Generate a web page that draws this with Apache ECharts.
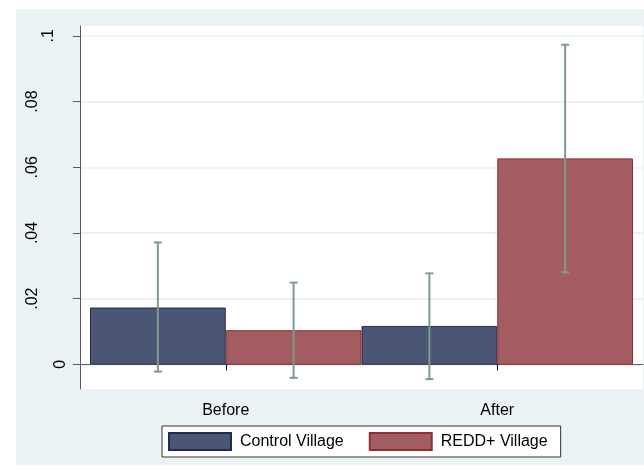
<!DOCTYPE html>
<html>
<head>
<meta charset="utf-8">
<script src="https://cdn.jsdelivr.net/npm/echarts@6/dist/echarts.min.js"></script>
<style>
  html, body { margin: 0; padding: 0; background: #ffffff; }
  #chart { position: absolute; left: 16px; top: 9px; width: 628px; height: 456px; }
</style>
</head>
<body>
<div id="chart"></div>
<script>
// Group means with 95% confidence bounds
const categories = ['Before', 'After'];
const seriesNames = ['Control Village', 'REDD+ Village'];
const controlMean = [0.0173, 0.0117];
const controlLower = [-0.0022, -0.0045];
const controlUpper = [0.0371, 0.0277];
const reddMean = [0.0104, 0.0627];
const reddLower = [-0.0041, 0.0280];
const reddUpper = [0.0249, 0.0973];
const yTicks = [0, 0.02, 0.04, 0.06, 0.08, 0.1];
const yMin = -0.0075;
const yMax = 0.103;

const FONT = '"Liberation Sans", Arial, Helvetica, sans-serif';
const AXIS_COLOR = '#5a5a5a';

// Stata-style tick text: drop the leading zero (.02, .1)
const fmt = v => (v === 0 ? '0' : String(+v.toFixed(4)).replace(/^0\./, '.'));

function labelAxis(values, margin) {
  return {
    type: 'value', gridIndex: 0, min: yMin, max: yMax, position: 'left',
    axisLine: { show: false }, axisTick: { show: false }, splitLine: { show: false },
    axisLabel: {
      customValues: values, rotate: 90, margin: margin, formatter: fmt,
      fontSize: 16, color: '#000', fontFamily: FONT
    }
  };
}

const errorData = [];
categories.forEach((c, i) => {
  errorData.push([i, controlLower[i], controlUpper[i], 0]);
  errorData.push([i, reddLower[i], reddUpper[i], 1]);
});

function renderError(params, api) {
  const ci = api.value(0);
  const lo = api.value(1);
  const hi = api.value(2);
  const s = api.value(3);
  const bw = api.size([1, 0])[0];
  const base = api.coord([ci, 0]);
  const x = base[0] + (s === 0 ? -bw / 4 : bw / 4);
  const yLo = api.coord([ci, lo])[1];
  const yHi = api.coord([ci, hi])[1];
  const cap = 4;
  const style = { stroke: '#7d9a91', lineWidth: 2, fill: null };
  return {
    type: 'group',
    children: [
      { type: 'line', shape: { x1: x, y1: yLo, x2: x, y2: yHi }, style: style },
      { type: 'line', shape: { x1: x - cap, y1: yLo, x2: x + cap, y2: yLo }, style: style },
      { type: 'line', shape: { x1: x - cap, y1: yHi, x2: x + cap, y2: yHi }, style: style }
    ]
  };
}

const chart = echarts.init(document.getElementById('chart'), null, { renderer: 'canvas' });
chart.setOption({
  animation: false,
  backgroundColor: '#eaf2f3',
  textStyle: { fontFamily: FONT },
  grid: [
    // plot region with axes and grid lines
    { left: 64, right: 1, top: 17, bottom: 76, show: true, backgroundColor: '#ffffff', borderWidth: 0 },
    // bar region
    { left: 74, right: 11, top: 17, bottom: 76 }
  ],
  xAxis: [
    {
      type: 'value', gridIndex: 0, min: 0, max: 1, position: 'bottom',
      axisLine: { show: true, lineStyle: { color: AXIS_COLOR, width: 1 } },
      axisTick: { show: false }, axisLabel: { show: false }, splitLine: { show: false }
    },
    {
      type: 'category', gridIndex: 1, data: categories, position: 'bottom',
      axisLine: { show: false },
      axisTick: { show: true, alignWithLabel: true, length: 6, lineStyle: { color: '#000' } },
      axisLabel: { fontSize: 16, color: '#000', margin: 14, fontFamily: FONT },
      splitLine: { show: false }
    }
  ],
  yAxis: [
    {
      type: 'value', gridIndex: 0, min: yMin, max: yMax, position: 'left',
      axisLine: { show: true, lineStyle: { color: AXIS_COLOR, width: 1 } },
      axisTick: { show: true, customValues: yTicks, length: 7, lineStyle: { color: AXIS_COLOR } },
      splitLine: { show: true, lineStyle: { color: '#e6eef0', width: 1.5 } },
      axisLabel: {
        customValues: [0.02, 0.04, 0.06, 0.08], rotate: 90, margin: 39, formatter: fmt,
        fontSize: 16, color: '#000', fontFamily: FONT
      }
    },
    labelAxis([0.1], 23),
    labelAxis([0], 11),
    {
      type: 'value', gridIndex: 1, min: yMin, max: yMax, show: false, splitLine: { show: false }
    }
  ],
  legend: {
    data: seriesNames,
    left: 146, top: 417,
    orient: 'horizontal',
    icon: 'rect',
    itemWidth: 62, itemHeight: 17, itemGap: 25,
    padding: [6, 13, 6, 6],
    backgroundColor: '#ffffff',
    borderColor: '#333333', borderWidth: 1, borderRadius: 0,
    textStyle: { fontSize: 16, color: '#000', fontFamily: FONT, padding: [0, 0, 0, 4] }
  },
  series: [
    {
      name: seriesNames[0], type: 'bar', xAxisIndex: 1, yAxisIndex: 3,
      data: controlMean, barGap: '0%', barCategoryGap: '0%',
      itemStyle: { color: '#4b5574', borderColor: '#1f2d52', borderWidth: 1 }
    },
    {
      name: seriesNames[1], type: 'bar', xAxisIndex: 1, yAxisIndex: 3,
      data: reddMean, barGap: '0%', barCategoryGap: '0%',
      itemStyle: { color: '#a35d60', borderColor: '#8e2f36', borderWidth: 1 }
    },
    {
      name: 'CI', type: 'custom', xAxisIndex: 1, yAxisIndex: 3,
      data: errorData, renderItem: renderError, z: 5
    }
  ]
});
</script>
</body>
</html>
